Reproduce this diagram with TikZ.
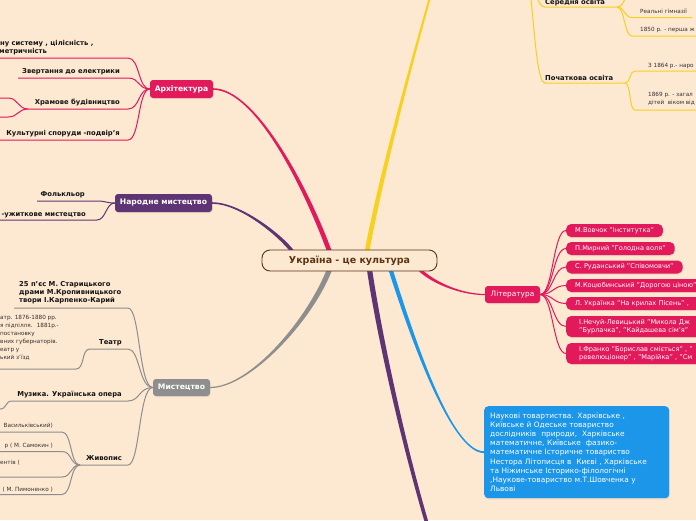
\documentclass[tikz,border=0pt]{standalone}
\usepackage{fontspec}
\setmainfont{DejaVu Sans}
\usetikzlibrary{calc,shadows}
\definecolor{bgc}{HTML}{FDE8D1}
\definecolor{pinkc}{HTML}{E2195B}
\definecolor{purc}{HTML}{5F3475}
\definecolor{grayc}{HTML}{8E8E8E}
\definecolor{yelc}{HTML}{F8D11E}
\definecolor{bluec}{HTML}{1C96E8}
\definecolor{brownc}{HTML}{5A3512}
\definecolor{txtc}{HTML}{151515}
\definecolor{smallc}{HTML}{333333}
\pgfdeclarelayer{bgl}
\pgfdeclarelayer{lines}
\pgfsetlayers{bgl,lines,main}
\newcommand\taper[7]{%
 \fill[#7] ($(#1)!#5!90:(#2)$) .. controls ($(#2)!#5!-90:(#1)$) and ($(#3)!#6!90:(#4)$) .. ($(#4)!#6!-90:(#3)$)
 -- ($(#4)!#6!90:(#3)$) .. controls ($(#3)!#6!-90:(#4)$) and ($(#2)!#5!90:(#1)$) .. ($(#1)!#5!-90:(#2)$) -- cycle;}
\begin{document}
\begin{tikzpicture}[x=1pt,y=-1pt,
  topic/.style={rounded corners=3pt, text=white, inner sep=0pt, font=\fontsize{7.6}{9}\selectfont\bfseries, minimum height=18pt, drop shadow={opacity=0.15, shadow xshift=0.5pt, shadow yshift=-1pt}},
  sub/.style={inner sep=0pt, text=txtc, font=\fontsize{6.8}{8.3}\selectfont\bfseries},
  small/.style={inner sep=0pt, text=smallc, font=\fontsize{5.7}{8}\selectfont},
  pill/.style={fill=pinkc, text=white, rounded corners=5pt, font=\fontsize{6.6}{8}\selectfont, minimum height=13pt, inner xsep=9pt, inner ysep=0pt, anchor=west, drop shadow={opacity=0.15, shadow xshift=0.6pt, shadow yshift=-1.2pt}},
  pinkln/.style={draw=pinkc, line width=1pt},
  purln/.style={draw=purc, line width=1pt},
  grayln/.style={draw=grayc, line width=1pt},
  yelln/.style={draw=yelc, line width=1pt}]
\useasboundingbox (0,0) rectangle (696,520);
\begin{pgfonlayer}{bgl}
\fill[bgc] (0,0) rectangle (696,520);
\end{pgfonlayer}

% central topic
\node[draw=brownc, line width=0.9pt, fill=bgc, rounded corners=8pt, minimum width=175pt, minimum height=21pt, inner sep=0pt, font=\fontsize{9.5}{11}\selectfont\bfseries, text=brownc] (root) at (349.5,260.5) {Україна - це культура};

% main topics
\node[topic, fill=pinkc, minimum width=63pt] (arch) at (181.5,89) {Архітектура};
\node[topic, fill=purc, minimum width=97pt] (folk) at (163.5,203) {Народне мистецтво};
\node[topic, fill=grayc, minimum width=57pt, minimum height=17pt] (mist) at (181.5,387.5) {Мистецтво};
\node[fill=pinkc, text=white, rounded corners=3pt, minimum width=55pt, minimum height=17pt, inner sep=0pt, font=\fontsize{7.4}{9}\selectfont, drop shadow={opacity=0.15, shadow xshift=0.5pt, shadow yshift=-1pt}] (lit) at (512.5,294.5) {Література};
\node[fill=bluec, text=white, rounded corners=4pt, anchor=north west, inner xsep=6pt, inner ysep=5pt, text width=173pt, align=left, minimum height=92pt, font=\fontsize{7.4}{9.2}\selectfont, drop shadow={opacity=0.15, shadow xshift=0.6pt, shadow yshift=-1.2pt}] (box) at (484,406) {Наукові товартиства. Харківське ,\\Київське й Одеське товариство\\дослідників \ природи, \ Харківське\\математичне, Київське \ фазико-\\математичне Історичне товариство\\Нестора Літописця в \ Києві , Харківське\\та Ніжинське Історико-філологічні\\,Наукове-товариство м.Т.Шовченка у\\Львові};

% branch start / end points
\coordinate (yS) at ($(root.north)+(17.5,2)$);
\coordinate (yE) at (431,-6);
\coordinate (paS) at ($(root.north)+(-20,2)$);
\coordinate (pfS) at ($(root.north)+(-57,2)$);
\coordinate (gS) at ($(root.south)+(-20,-2)$);
\coordinate (lS) at ($(root.south)+(70,-2)$);
\coordinate (bS) at ($(root.south)+(41,-2)$);
\coordinate (pdS) at ($(root.south)+(20,-2)$);
\coordinate (pdE) at (428,527);

\begin{pgfonlayer}{lines}
\taper{yS}{380,180}{412,60}{yE}{2.3pt}{1pt}{yelc}
\taper{paS}{305,185}{255,89}{arch.east}{2.3pt}{0.8pt}{pinkc}
\taper{pfS}{280,235}{240,203}{folk.east}{1.8pt}{0.8pt}{purc}
\taper{gS}{310,320}{250,387.5}{mist.east}{2.6pt}{0.6pt}{grayc}
\taper{lS}{432,282}{460,294.5}{lit.west}{1.6pt}{0.6pt}{pinkc}
\taper{bS}{410,330}{450,452}{box.west}{2.1pt}{0.9pt}{bluec}
\taper{pdS}{380,340}{405,450}{pdE}{2.6pt}{1.8pt}{purc}
\end{pgfonlayer}

% ---------- Архітектура children
\coordinate (a1r) at (128,58);  \coordinate (a1l) at (-3,58);
\coordinate (a2r) at (128,78);  \coordinate (a2l) at (18,78);
\coordinate (a3r) at (128,109); \coordinate (a3l) at (28,109);
\coordinate (a3a) at (8,98);    \coordinate (a3b) at (8,117);
\coordinate (a4r) at (128,140); \coordinate (a4l) at (-3,140);
\begin{pgfonlayer}{lines}
\draw[pinkln] (arch.west) .. controls +(-12,0) and +(12,0) .. (a1r) -- (a1l);
\draw[pinkln] (arch.west) .. controls +(-12,0) and +(12,0) .. (a2r) -- (a2l);
\draw[pinkln] (arch.west) .. controls +(-12,0) and +(12,0) .. (a3r) -- (a3l);
\draw[pinkln] (arch.west) .. controls +(-12,0) and +(12,0) .. (a4r) -- (a4l);
\draw[pinkln] (a3l) .. controls +(-10,0) and +(10,0) .. (a3a) -- ++(-12,0);
\draw[pinkln] (a3l) .. controls +(-10,0) and +(10,0) .. (a3b) -- ++(-12,0);
\end{pgfonlayer}
\node[sub, anchor=base west] (a1t) at (0,45.5) {ну систему , цілісність ,};
\node[sub, anchor=base west] (a1u) at (-1,53.5) {метричність};
\node[sub, anchor=base east] (a2t) at (120,73.5) {Звертання до електрики};
\node[sub, anchor=base east] (a3t) at (120,104.5) {Храмове будівництво};
\node[sub, anchor=base east] (a4t) at (120,135.5) {Культурні споруди -подвір'я};

% ---------- Народне мистецтво children
\coordinate (f1r) at (97,201); \coordinate (f1l) at (37,201);
\coordinate (f2r) at (97,220); \coordinate (f2l) at (-3,220);
\begin{pgfonlayer}{lines}
\draw[purln] (folk.west) .. controls +(-9,0) and +(9,0) .. (f1r) -- (f1l);
\draw[purln] (folk.west) .. controls +(-9,0) and +(9,0) .. (f2r) -- (f2l);
\end{pgfonlayer}
\node[sub, anchor=base east] (f1t) at (85,196.5) {Фолькльор};
\node[sub, anchor=base east] (f2t) at (86,216.5) {-ужиткове мистецтво};

% ---------- Мистецтво children
\coordinate (m1r) at (128,308); \coordinate (m1l) at (14,308);
\coordinate (m2r) at (128,349); \coordinate (m2l) at (90,349);
\coordinate (m2c) at (76,369);
\coordinate (m3r) at (128,401); \coordinate (m3l) at (12,401);
\coordinate (m3c) at (0,409);
\coordinate (m4r) at (128,465); \coordinate (m4l) at (80,465);
\coordinate (z1) at (62,432);
\coordinate (z2) at (62,451.5);
\coordinate (z3) at (62,477);
\coordinate (z4) at (62,494.5);
\begin{pgfonlayer}{lines}
\draw[grayln] (mist.west) .. controls +(-14,0) and +(12,0) .. (m1r) -- (m1l);
\draw[grayln] (mist.west) .. controls +(-14,0) and +(12,0) .. (m2r) -- (m2l);
\draw[grayln] (mist.west) .. controls +(-14,0) and +(12,0) .. (m3r) -- (m3l);
\draw[grayln] (mist.west) .. controls +(-14,0) and +(12,0) .. (m4r) -- (m4l);
\draw[grayln] (m2l) .. controls +(-9,0) and +(9,0) .. (m2c) -- ++(-82,0);
\draw[grayln] (m3l) .. controls +(-7,0) and +(7,0) .. (m3c) -- ++(-8,0);
\draw[grayln] (m4l) .. controls +(-10,0) and +(10,0) .. (z1) -- ++(-66,0);
\draw[grayln] (m4l) .. controls +(-10,0) and +(10,0) .. (z2) -- ++(-66,0);
\draw[grayln] (m4l) .. controls +(-10,0) and +(10,0) .. (z3) -- ++(-66,0);
\draw[grayln] (m4l) .. controls +(-10,0) and +(10,0) .. (z4) -- ++(-66,0);
\end{pgfonlayer}
\node[sub, anchor=north west, align=left] (m1t) at (19,281) {25 п'єс М. Старицького\\драми М.Кропивницького\\твори І.Карпенко-Карий};
\node[sub, anchor=base east] (m2t) at (122,344.5) {Театр};
\node[small, anchor=north west, align=left] (m2u) at (0,315.5) {атр. 1876-1880 рр.\\я підпілля. \ 1881р.-\\постановку\\вних губернаторів.\\еатр у\\ький з'їзд};
\node[sub, anchor=base east] (m3t) at (122,396.5) {Музика. Українська опера};
\node[sub, anchor=base east] (m4t) at (122,460.5) {Живопис};
\node[small, anchor=base east] (z1t) at (53,427.5) {Васильківський)};
\node[small, anchor=base east] (z2t) at (53,447.5) {р ( М. Самокин )};
\node[small, anchor=base west] (z3t) at (0,464.5) {ентів (};
\node[small, anchor=base east] (z4t) at (53,491) {( М. Пимоненко )};

% ---------- Література children
\node[pill] (p1) at (566,230.5) {М.Вовчок "Інститутка"};
\node[pill] (p2) at (566,248.5) {П.Мирний "Голодна воля"};
\node[pill] (p3) at (566,267) {С. Руданський "Співомовчи"};
\node[pill, text width=140pt, align=left] (p4) at (566,285.5) {М.Коцюбинський "Дорогою ціною"};
\node[pill, text width=140pt, align=left] (p5) at (566,303.5) {Л. Українка "На крилах Пісень" ,};
\node[pill, text width=140pt, align=left, inner xsep=13pt, minimum height=21pt] (p6) at (566,326.5) {І.Нечуй-Левицький "Микола Дж\\"Бурлачка", "Кайдашева сім'я"};
\node[pill, text width=140pt, align=left, inner xsep=13pt, minimum height=21pt] (p7) at (566,353.5) {І.Франко "Борислав сміється" , "\\ревелюціонер" , "Марійка" , "См};
\begin{pgfonlayer}{lines}
\foreach \p in {p1,p2,p3,p4,p5,p6,p7}
  \draw[pinkln] (lit.east) .. controls +(13,0) and +(-13,0) .. (\p.west);
\end{pgfonlayer}

% ---------- Освіта (yellow)
\coordinate (eP) at (522,-40);
\coordinate (s1l) at (545,7);  \coordinate (s1r) at (617,7);
\coordinate (s2l) at (545,83); \coordinate (s2r) at (625,83);
\coordinate (s0) at (632,-7);
\coordinate (r1l) at (632,17.5); \coordinate (r1r) at (692,17.5);
\coordinate (r2l) at (632,36);   \coordinate (r2r) at (700,36);
\coordinate (q1l) at (635,71);   \coordinate (q1r) at (700,71);
\coordinate (q2l) at (635,110);  \coordinate (q2r) at (700,110);
\begin{pgfonlayer}{lines}
\draw[yelln] (eP) .. controls +(11,0) and +(-12,0) .. (s1l) -- (s1r);
\draw[yelln] (eP) .. controls +(11,0) and +(-12,0) .. (s2l) -- (s2r);
\draw[yelln] (s1r) .. controls +(8,0) and +(-8,0) .. (s0) -- ++(12,0);
\draw[yelln] (s1r) .. controls +(8,0) and +(-8,0) .. (r1l) -- (r1r);
\draw[yelln] (s1r) .. controls +(8,0) and +(-8,0) .. (r2l) -- (r2r);
\draw[yelln] (s2r) .. controls +(6,0) and +(-6,0) .. (q1l) -- (q1r);
\draw[yelln] (s2r) .. controls +(6,0) and +(-6,0) .. (q2l) -- (q2r);
\end{pgfonlayer}
\node[sub, anchor=base west] (s1t) at (545,4.5) {Середня освіта};
\node[sub, anchor=base west] (s2t) at (545,80.5) {Початкова освіта};
\node[small, anchor=base west] (r1t) at (640,13) {Реальні гімназії};
\node[small, anchor=base west] (r2t) at (640,31.5) {1850 р. - перша ж};
\node[small, anchor=base west] (q1t) at (648,67) {З 1864 р.- наро};
\node[small, anchor=north west, align=left] (q2t) at (648,92) {1869 р. - загал\\дітей \ віком від};
\end{tikzpicture}
\end{document}
